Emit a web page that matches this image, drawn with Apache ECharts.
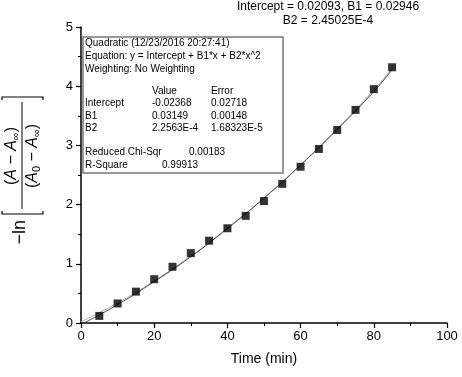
<!DOCTYPE html>
<html>
<head>
<meta charset="utf-8">
<script src="https://cdn.jsdelivr.net/npm/echarts@6/dist/echarts.min.js"></script>
<style>
  html, body { margin: 0; padding: 0; background: #fff; }
  #main { width: 462px; height: 377px; }
</style>
</head>
<body>
<div id="main"></div>
<script>
// 数据：时间 (min) 与 -ln[(A-A∞)/(A0-A∞)]
var timeMin = [5, 10, 15, 20, 25, 30, 35, 40, 45, 50, 55, 60, 65, 70, 75, 80, 85];
var lnValues = [0.12, 0.33, 0.53, 0.74, 0.95, 1.18, 1.39, 1.60, 1.81, 2.06, 2.35, 2.64, 2.94, 3.26, 3.60, 3.95, 4.32];

// 拟合曲线（从图上读取的点）
var fitX = [0.8, 10, 20, 30, 40, 50, 60, 70, 80, 85];
var fitY = [0, 0.31, 0.70, 1.12, 1.60, 2.11, 2.67, 3.27, 3.91, 4.28];
var fit2X = [0, 10, 20, 30, 40, 50, 60, 70, 80, 85];
var fit2Y = [0.02, 0.34, 0.71, 1.13, 1.59, 2.11, 2.67, 3.28, 3.94, 4.30];

var xTicks = [0, 20, 40, 60, 80, 100];
var yTicks = [0, 1, 2, 3, 4, 5];

var titleLines = ['Intercept = 0.02093, B1 = 0.02946', 'B2 = 2.45025E-4'];
var boxHeader = ['Quadratic (12/23/2016 20:27:41)', 'Equation: y = Intercept + B1*x + B2*x^2', 'Weighting: No Weighting'];
var paramNames = ['', 'Intercept', 'B1', 'B2'];
var paramValues = ['Value', '-0.02368', '0.03149', '2.2563E-4'];
var paramErrors = ['Error', '0.02718', '0.00148', '1.68323E-5'];
var statNames = ['Reduced Chi-Sqr', 'R-Square'];
var statValues = ['0.00183', '0.99913'];

var FONT = '"Liberation Sans", Arial, sans-serif';

function pairs(xs, ys) {
    var out = [];
    for (var i = 0; i < xs.length; i++) out.push([xs[i], ys[i]]);
    return out;
}

function boxText(x, y, s) {
    return { type: 'text', x: x, y: y, z: 20, style: { text: s, font: '10px ' + FONT, fill: '#000', verticalAlign: 'middle' } };
}

var myChart = echarts.init(document.getElementById('main'));

// 文本框里的文字
var boxTexts = [];
var rowY = [43, 56, 69];
for (var i = 0; i < boxHeader.length; i++) {
    boxTexts.push(boxText(85, rowY[i], boxHeader[i]));
}
var pRowY = [91, 103, 116, 128];
for (var j = 0; j < paramNames.length; j++) {
    boxTexts.push(boxText(85, pRowY[j], paramNames[j]));
    boxTexts.push(boxText(152, pRowY[j], paramValues[j]));
    boxTexts.push(boxText(211, pRowY[j], paramErrors[j]));
}
var sRowY = [152, 165];
var sValX = [189, 162];
for (var k = 0; k < statNames.length; k++) {
    boxTexts.push(boxText(85, sRowY[k], statNames[k]));
    boxTexts.push(boxText(sValX[k], sRowY[k], statValues[k]));
}

var fracRich = {
    n: { fontSize: 16, fontFamily: FONT, color: '#000' },
    i: { fontSize: 16, fontFamily: FONT, fontStyle: 'italic', color: '#000' },
    s: { fontSize: 11, fontFamily: FONT, color: '#000', padding: [8, 0, 0, 0] }
};

var option = {
    backgroundColor: '#fff',
    animation: false,
    grid: { left: 81, right: 15, top: 27, bottom: 54 },
    xAxis: {
        type: 'value',
        min: 0,
        max: 100,
        interval: 20,
        name: 'Time (min)',
        nameLocation: 'middle',
        nameGap: 29,
        nameTextStyle: { fontFamily: FONT, fontSize: 14, color: '#000' },
        axisLine: { lineStyle: { color: '#000', width: 1.5 } },
        axisTick: { length: 5, lineStyle: { color: '#000', width: 1.2 } },
        minorTick: { show: true, splitNumber: 2, length: 3, lineStyle: { color: '#000', width: 1 } },
        splitLine: { show: false },
        axisLabel: { fontFamily: FONT, fontSize: 13, color: '#000', margin: 7,
            formatter: function (v) { return xTicks.indexOf(v) >= 0 ? String(v) : ''; } }
    },
    yAxis: {
        type: 'value',
        min: 0,
        max: 5,
        interval: 1,
        axisLine: { lineStyle: { color: '#000', width: 1.5 } },
        axisTick: { length: 5, lineStyle: { color: '#000', width: 1.2 } },
        minorTick: { show: true, splitNumber: 2, length: 3, lineStyle: { color: '#000', width: 1 } },
        splitLine: { show: false },
        axisLabel: { fontFamily: FONT, fontSize: 13, color: '#000', margin: 8,
            formatter: function (v) { return yTicks.indexOf(v) >= 0 ? String(v) : ''; } }
    },
    series: [{
        type: 'line',
        data: pairs(fit2X, fit2Y),
        smooth: true,
        showSymbol: false,
        lineStyle: { color: '#aaa', width: 1 },
        z: 1
    }, {
        type: 'line',
        data: pairs(fitX, fitY),
        smooth: true,
        showSymbol: false,
        lineStyle: { color: '#444', width: 1 },
        z: 2
    }, {
        type: 'scatter',
        data: pairs(timeMin, lnValues),
        symbol: 'rect',
        symbolSize: 8,
        itemStyle: { color: '#000' },
        z: 3
    }],
    graphic: [
        { type: 'text', x: 328, y: 7, style: { text: titleLines[0], font: '12px ' + FONT, fill: '#000', align: 'center', verticalAlign: 'middle' } },
        { type: 'text', x: 328, y: 21, style: { text: titleLines[1], font: '12px ' + FONT, fill: '#000', align: 'center', verticalAlign: 'middle' } },
        { type: 'rect', z: 10, shape: { x: 83, y: 37, width: 200, height: 136 }, style: { fill: '#fff', stroke: '#777', lineWidth: 1.5 } },
        { type: 'group', children: boxTexts },
        {
            type: 'group', x: 22, y: 178, rotation: Math.PI / 2,
            children: [
                { type: 'text', x: -42, y: -2, style: { text: '−ln', font: '18px ' + FONT, fill: '#000', align: 'right', verticalAlign: 'middle' } },
                { type: 'polyline', shape: { points: [[-33, -20], [-36, -20], [-36, 21], [-33, 21]] }, style: { stroke: '#000', lineWidth: 1.2, fill: null } },
                { type: 'polyline', shape: { points: [[78, -20], [81, -20], [81, 21], [78, 21]] }, style: { stroke: '#000', lineWidth: 1.2, fill: null } },
                { type: 'line', shape: { x1: -31, y1: 0, x2: 76, y2: 0 }, style: { stroke: '#000', lineWidth: 1 } },
                { type: 'text', x: 22, y: -10, style: { text: '{n|(}{i|A}{n| − }{i|A}{s|∞}{n|)}', rich: fracRich, align: 'center', verticalAlign: 'middle' } },
                { type: 'text', x: 22, y: 11, style: { text: '{n|(}{i|A}{s|0}{n| − }{i|A}{s|∞}{n|)}', rich: fracRich, align: 'center', verticalAlign: 'middle' } }
            ]
        }
    ]
};

myChart.setOption(option);
window.addEventListener('resize', function () {
    myChart.resize();
});
</script>
</body>
</html>
